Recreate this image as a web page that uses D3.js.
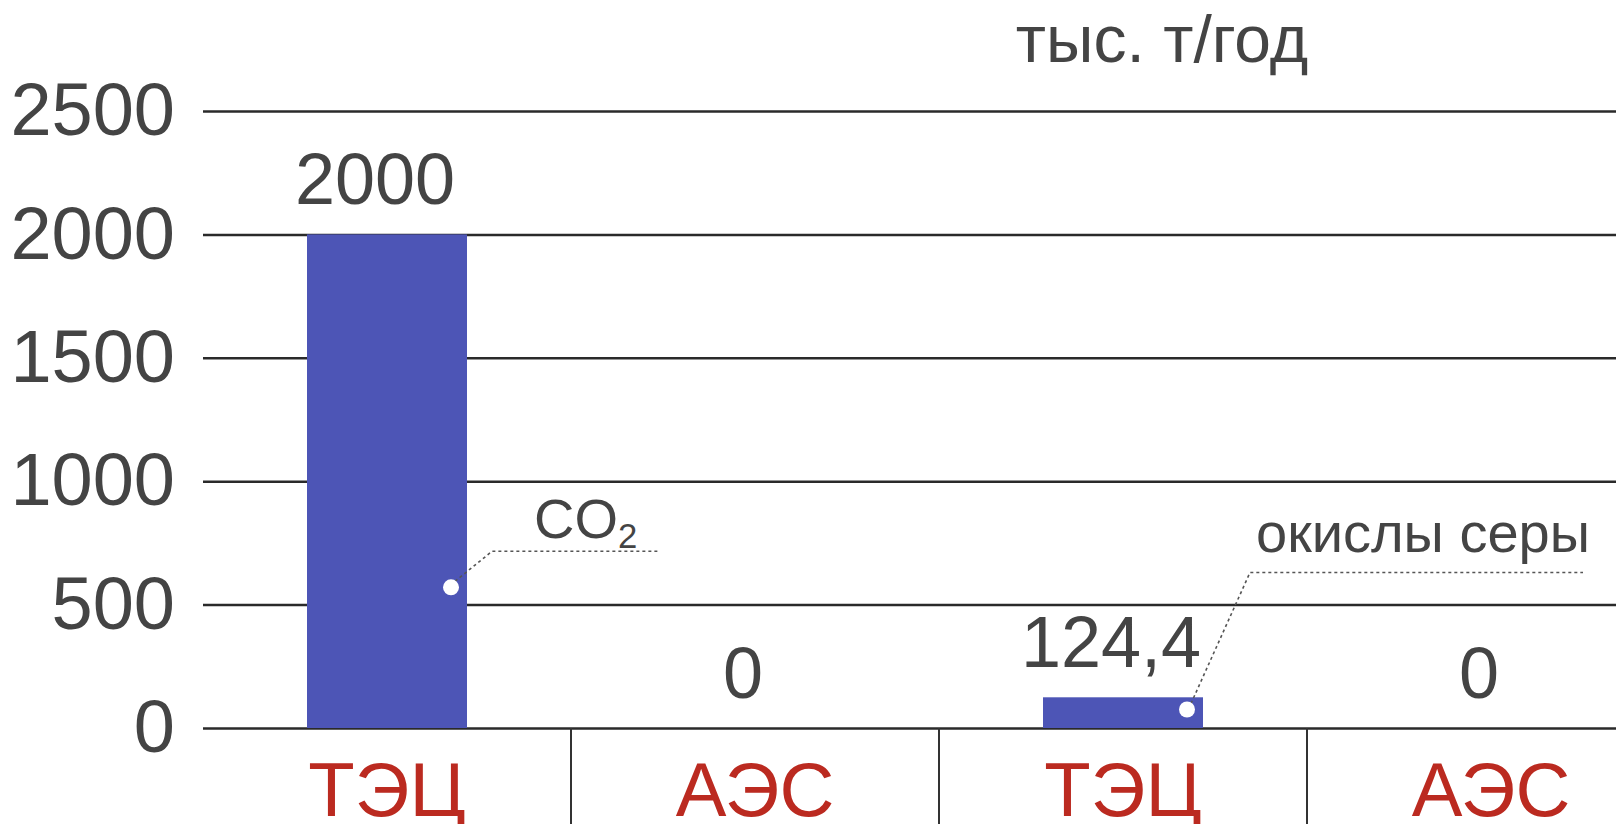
<!DOCTYPE html>
<html>
<head>
<meta charset="utf-8">
<script src="https://cdn.jsdelivr.net/npm/d3@7"></script>
<style>
  html, body { margin: 0; padding: 0; background: #fff; }
  svg { display: block; }
  text { font-family: "Liberation Sans", Arial, sans-serif; }
</style>
</head>
<body>
<div id="chart"></div>
<script>
// categories and values (тыс. т/год)
const categories = ["ТЭЦ", "АЭС", "ТЭЦ", "АЭС"];
const values = [2000, 0, 124.4, 0];
const yTicks = [0, 500, 1000, 1500, 2000, 2500];
const unitLabel = "тыс. т/год";
// leader notes: bar index, value where the dot sits, text
const notes = [
    { bar: 0, at: 570, text: "CO", sub: "2" },
    { bar: 2, at: 75, text: "окислы серы", sub: "" }
];

const width = 1616, height = 824;
const margin = { left: 203, top: 111, bottom: 96 };

const svg = d3.select("#chart")
    .append("svg")
    .attr("width", width)
    .attr("height", height);

const y = d3.scaleLinear()
    .domain([0, 2500])
    .range([height - margin.bottom, margin.top]);

const x = d3.scaleBand()
    .domain(d3.range(categories.length))
    .range([margin.left, margin.left + 368 * categories.length]);

const barW = 160;
const fmt = d3.formatLocale({ decimal: ",", thousands: " ", grouping: [3], currency: ["", ""] }).format("~f");

// gridlines + y labels
const yAxis = svg.append("g")
    .attr("transform", `translate(${margin.left},0)`)
    .call(d3.axisLeft(y)
        .tickValues(yTicks)
        .tickSize(-(width - margin.left))
        .tickPadding(28)
        .tickFormat(d3.format("d")));

yAxis.select(".domain").remove();
yAxis.selectAll(".tick line")
    .attr("stroke", "#2a2a2a")
    .attr("stroke-width", 2.5);
yAxis.selectAll(".tick text")
    .attr("fill", "#444")
    .attr("font-size", 74)
    .attr("font-family", "'Liberation Sans', Arial, sans-serif");

// bars
svg.append("g")
    .selectAll("rect")
    .data(values)
    .join("rect")
    .attr("x", (d, i) => x(i) + (x.bandwidth() - barW) / 2)
    .attr("y", d => y(d))
    .attr("width", barW)
    .attr("height", d => y(0) - y(d))
    .attr("fill", "#4d55b6");

// value labels
svg.append("g")
    .selectAll("text")
    .data(values)
    .join("text")
    .attr("x", (d, i) => x(i) + x.bandwidth() / 2 - 12)
    .attr("y", d => y(d) - 30)
    .attr("text-anchor", "middle")
    .attr("font-size", 72)
    .attr("fill", "#444")
    .text(d => fmt(d));

// category separators below the baseline
svg.append("g")
    .selectAll("line")
    .data(d3.range(1, categories.length))
    .join("line")
    .attr("x1", i => x(i))
    .attr("x2", i => x(i))
    .attr("y1", y(0))
    .attr("y2", height)
    .attr("stroke", "#333")
    .attr("stroke-width", 2);

// category labels
svg.append("g")
    .selectAll("text")
    .data(categories)
    .join("text")
    .attr("x", (d, i) => x(i) + x.bandwidth() / 2)
    .attr("y", height - 8)
    .attr("text-anchor", "middle")
    .attr("font-size", 76)
    .attr("fill", "#bb2a20")
    .text(d => d);

// unit label
svg.append("text")
    .attr("x", 1162)
    .attr("y", 62)
    .attr("text-anchor", "middle")
    .attr("font-size", 66)
    .attr("fill", "#444")
    .text(unitLabel);

// leader notes
const noteGeo = [
    { dx: 41, dy: -36, len: 167, tx: 42, ty: -13, fs: 56 },
    { dx: 63, dy: -137, len: 333, tx: 6, ty: -20, fs: 56 }
];

notes.forEach((n, k) => {
    const g = noteGeo[k];
    const cx = x(n.bar) + (x.bandwidth() + barW) / 2 - 16;
    const cy = y(n.at);
    const ex = cx + g.dx, ey = cy + g.dy;

    svg.append("path")
        .attr("d", d3.line()([[cx + 4, cy - 6], [ex, ey], [ex + g.len, ey]]))
        .attr("fill", "none")
        .attr("stroke", "#555")
        .attr("stroke-width", 1.6)
        .attr("stroke-dasharray", "3,3");

    svg.append("circle")
        .attr("cx", cx)
        .attr("cy", cy)
        .attr("r", 8)
        .attr("fill", "#fff");

    const t = svg.append("text")
        .attr("x", ex + g.tx)
        .attr("y", ey + g.ty)
        .attr("font-size", g.fs)
        .attr("fill", "#444")
        .text(n.text);
    if (n.sub) {
        t.append("tspan")
            .attr("font-size", g.fs * 0.62)
            .attr("dy", 10)
            .text(n.sub);
    }
});
</script>
</body>
</html>
